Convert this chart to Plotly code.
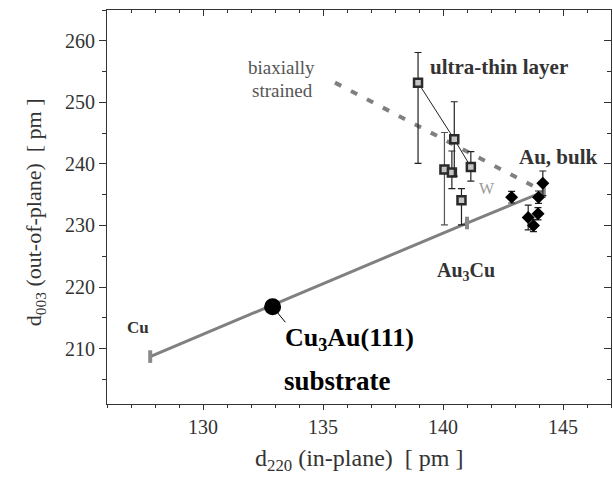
import plotly.graph_objects as go

# Reference lattice spacings (Vegard line): Cu, Au3Cu, Au
ref_names = ["Cu", "Au3Cu", "Au, bulk"]
ref_x = [127.8, 141.0, 144.2]
ref_y = [208.7, 230.4, 235.5]

# Cu3Au(111) substrate
sub_x = [132.9]
sub_y = [216.8]

# biaxially strained Au line
strain_x = [135.5, 144.2]
strain_y = [253.2, 235.5]

# ultra-thin layer (connected series)
thin_x = [138.96, 140.47, 141.16]
thin_y = [253.2, 244.0, 239.5]
thin_ep = [4.9, 6.1, 2.5]
thin_em = [13.1, 6.0, 2.3]

# further thin-layer points (black error bars)
sq_x = [140.37, 140.77]
sq_y = [238.6, 234.1]
sq_ep = [3.5, 1.9]
sq_em = [2.6, 4.0]

# thin-layer point with gray error bar
sqg_x = [140.06]
sqg_y = [239.1]
sqg_ep = [6.0]
sqg_em = [9.0]

# thick films (diamonds)
dia_x = [142.86, 144.16, 143.98, 143.96, 143.55, 143.77]
dia_y = [234.6, 236.85, 234.6, 231.9, 231.3, 230.0]
dia_e = [0.95, 2.0, 1.0, 1.0, 2.0, 1.0]

x_range = [126, 147]
y_range = [201, 265]
x_ticks = [130, 135, 140, 145]
y_ticks = [210, 220, 230, 240, 250, 260]

SERIF = "Liberation Serif"
DARK = "#333333"
GRAY = "#808080"

fig = go.Figure()

# Vegard line with reference markers
fig.add_trace(go.Scatter(x=ref_x, y=ref_y, mode="lines+markers",
                         line=dict(color=GRAY, width=3),
                         marker=dict(symbol="line-ns", size=9,
                                     line=dict(color="#8a8a8a", width=4)),
                         showlegend=False, hoverinfo="skip"))
# strained dashed line
fig.add_trace(go.Scatter(x=strain_x, y=strain_y, mode="lines",
                         line=dict(color=GRAY, width=4, dash="7px,11px"),
                         showlegend=False, hoverinfo="skip"))
# substrate circle
fig.add_trace(go.Scatter(x=sub_x, y=sub_y, mode="markers",
                         marker=dict(symbol="circle", size=17, color="black"),
                         showlegend=False))
# gray error bar square
fig.add_trace(go.Scatter(x=sqg_x, y=sqg_y, mode="markers",
                         error_y=dict(type="data", array=sqg_ep, arrayminus=sqg_em,
                                      color="#555555", thickness=1.2, width=3.5),
                         marker=dict(symbol="square", size=8, color="#c4c4c4",
                                     line=dict(color="#2a2a2a", width=2.5)),
                         showlegend=False))
# other squares
fig.add_trace(go.Scatter(x=sq_x, y=sq_y, mode="markers",
                         error_y=dict(type="data", array=sq_ep, arrayminus=sq_em,
                                      color="#222222", thickness=1.2, width=3.5),
                         marker=dict(symbol="square", size=8, color="#c4c4c4",
                                     line=dict(color="#2a2a2a", width=2.5)),
                         showlegend=False))
# connected ultra-thin series
fig.add_trace(go.Scatter(x=thin_x, y=thin_y, mode="lines+markers",
                         line=dict(color="#222222", width=1),
                         error_y=dict(type="data", array=thin_ep, arrayminus=thin_em,
                                      color="#222222", thickness=1.2, width=3.5),
                         marker=dict(symbol="square", size=8, color="#c4c4c4",
                                     line=dict(color="#2a2a2a", width=2.5)),
                         showlegend=False))
# diamonds
fig.add_trace(go.Scatter(x=dia_x, y=dia_y, mode="markers",
                         error_y=dict(type="data", array=dia_e,
                                      color="#222222", thickness=1.2, width=3.5),
                         marker=dict(symbol="diamond", size=10, color="black"),
                         showlegend=False))
# dummy trace for mirrored top/right axes
fig.add_trace(go.Scatter(x=[], y=[], xaxis="x2", yaxis="y2", showlegend=False))

tickfont = dict(family=SERIF, size=20, color=DARK)
common = dict(showgrid=False, zeroline=False, showline=True, linecolor=DARK,
              linewidth=1.2, tickcolor=DARK, tickwidth=1.2)

fig.update_layout(
    width=613, height=483,
    margin=dict(l=107, r=2, t=10, b=79),
    paper_bgcolor="white", plot_bgcolor="white",
    xaxis=dict(range=x_range, tickvals=x_ticks, ticks="outside", ticklen=5,
               tickfont=tickfont,
               minor=dict(dtick=1, ticks="outside", ticklen=3, tickcolor=DARK),
               **common),
    yaxis=dict(range=y_range, tickvals=y_ticks, ticks="outside", ticklen=7,
               tickfont=tickfont,
               minor=dict(dtick=5, ticks="outside", ticklen=4, tickcolor=DARK),
               **common),
    xaxis2=dict(range=x_range, overlaying="x", side="top", anchor="y",
                tickvals=x_ticks, ticks="inside", ticklen=6, showticklabels=False,
                minor=dict(dtick=1, ticks="inside", ticklen=3, tickcolor=DARK),
                **common),
    yaxis2=dict(range=y_range, overlaying="y", side="right", anchor="x",
                tickvals=y_ticks, ticks="inside", ticklen=7, showticklabels=False,
                minor=dict(dtick=5, ticks="inside", ticklen=4, tickcolor=DARK),
                **common),
)

bold = dict(family=SERIF, size=21, color=DARK)
ann = [
    dict(x=0.5, y=-0.142, xref="paper", yref="paper", showarrow=False,
         text="d<sub>220</sub> (in-plane)  [ pm ]", xanchor="center", yanchor="middle",
         font=dict(family=SERIF, size=24, color=DARK)),
    dict(x=-0.1427, y=0.487, xref="paper", yref="paper", showarrow=False, textangle=-90,
         text="d<sub>003</sub> (out-of-plane)  [ pm ]", xanchor="center", yanchor="middle",
         font=dict(family=SERIF, size=22, color=DARK)),
    dict(x=142.33, y=255.7, text="<b>ultra-thin layer</b>", showarrow=False,
         font=bold),
    dict(x=144.82, y=241.1, text="<b>Au, bulk</b>", showarrow=False,
         font=bold),
    dict(x=134.75, y=255.6, text="biaxially", showarrow=False, xanchor="right",
         font=dict(family=SERIF, size=19, color="#555555")),
    dict(x=134.65, y=252.0, text="strained", showarrow=False, xanchor="right",
         font=dict(family=SERIF, size=19, color="#555555")),
    dict(x=141.85, y=236.0, text="W", showarrow=False,
         font=dict(family=SERIF, size=16, color="#9a9a9a")),
    dict(x=140.95, y=222.5, text="<b>Au<sub>3</sub>Cu</b>", showarrow=False,
         font=dict(family=SERIF, size=20, color=DARK)),
    dict(x=127.3, y=213.4, text="<b>Cu</b>", showarrow=False,
         font=dict(family=SERIF, size=17, color=DARK)),
    dict(x=133.34, y=211.6, text="<b>Cu<sub>3</sub>Au(111)</b>", showarrow=False,
         xanchor="left", font=dict(family=SERIF, size=26, color="black")),
    dict(x=133.3, y=204.7, text="<b>substrate</b>", showarrow=False,
         xanchor="left", font=dict(family=SERIF, size=27, color="black")),
    dict(x=sub_x[0], y=sub_y[0], text="", showarrow=True, arrowhead=0,
         arrowwidth=1, arrowcolor="black", ax=14, ay=17, standoff=8,
         axref="pixel", ayref="pixel"),
]
fig.update_layout(annotations=ann)

fig.write_html("out.html", config={"displayModeBar": False},
               post_script="document.body.style.margin='0';")
